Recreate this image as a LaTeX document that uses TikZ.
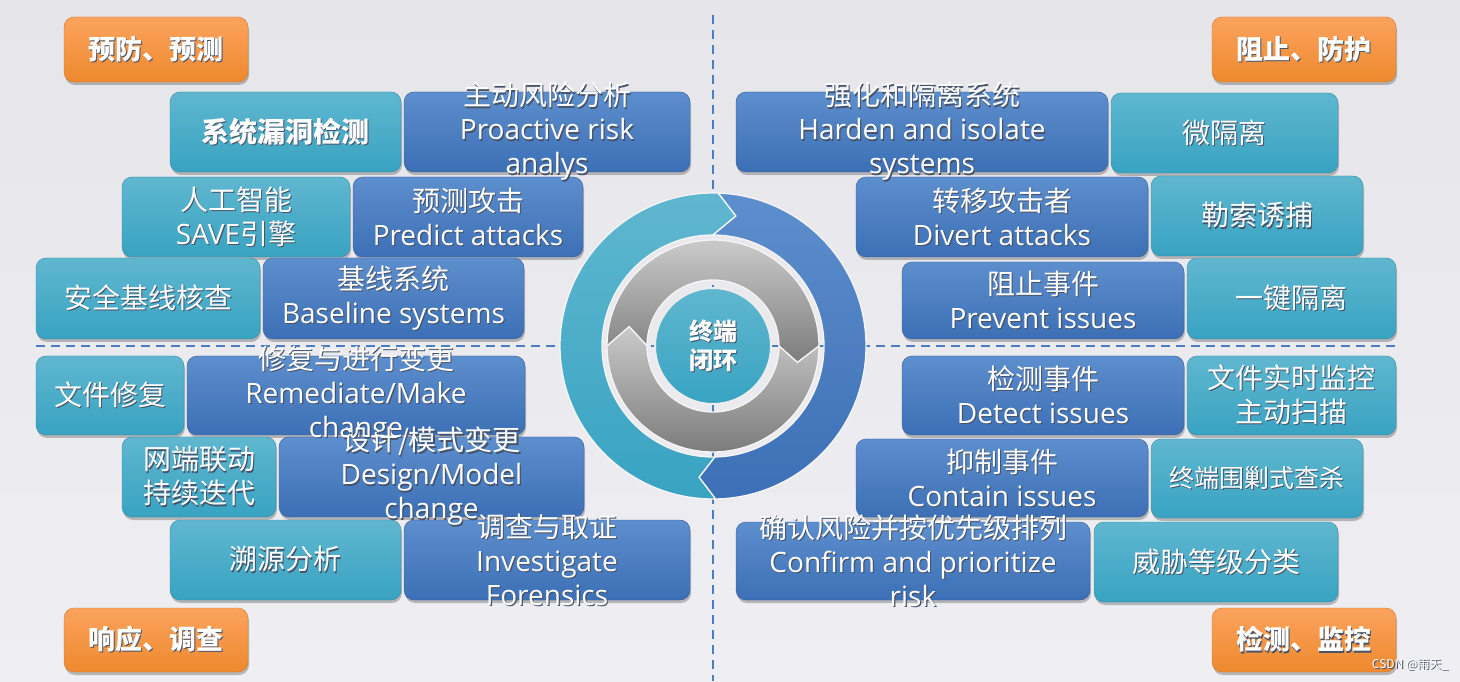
\documentclass[tikz,border=0pt]{standalone}
\usepackage{fontspec}
\setmainfont{Open Sans}
\newfontfamily\cjk{Noto Sans CJK SC}
\usetikzlibrary{shadows}
\definecolor{bgtop}{HTML}{E5E5EA}
\definecolor{bgbot}{HTML}{EFEFF3}
\definecolor{tealtop}{HTML}{60B7CF}
\definecolor{tealbot}{HTML}{38A3C2}
\definecolor{bluetop}{HTML}{5D8ECD}
\definecolor{bluebot}{HTML}{3C6FB5}
\definecolor{orgtop}{HTML}{FBA35E}
\definecolor{orgbot}{HTML}{EE892E}
\definecolor{dashc}{HTML}{4A7EC4}
\definecolor{graylt}{HTML}{CACACA}
\definecolor{graydk}{HTML}{7C7C7C}
\definecolor{tshadow}{HTML}{46536A}
\newcommand\sh[1]{\leavevmode\rlap{\kern1.2pt\raisebox{-1.2pt}{\textcolor{tshadow}{#1}}}#1}
\newcommand\zh[1]{\sh{{\cjk #1}}}
\newcommand\zhb[1]{\sh{{\cjk\bfseries #1}}}
% name, style, x1, y1, x2, y2 (screen pixels, y downwards)
\newcommand\mybox[6]{\node[#2, minimum width={(#5-#3)*1pt}, minimum height={(#6-#4)*1pt}] (#1) at ({(#3+#5)/2},{681-(#4+#6)/2}) {};}
\tikzset{
  boxbase/.style={rectangle, rounded corners=10pt, inner sep=0pt, outer sep=0pt,
    drop shadow={shadow xshift=1pt, shadow yshift=-3pt, opacity=0.35, fill=black!70}},
  tealbox/.style={boxbase, top color=tealtop, bottom color=tealbot, draw=tealbot!85!black, line width=0.4pt},
  bluebox/.style={boxbase, top color=bluetop, bottom color=bluebot, draw=bluebot!85!black, line width=0.4pt},
  orgbox/.style={boxbase, top color=orgtop, bottom color=orgbot, draw=orgbot!90!black, line width=0.4pt},
  txt/.style={text=white, align=center, inner sep=0pt, font=\fontsize{28}{34}\selectfont},
  otxt/.style={text=white, align=center, inner sep=0pt, font=\fontsize{27}{30}\selectfont},
  dashline/.style={draw=dashc, line width=2.6pt, dash pattern=on 9pt off 6pt},
  ringedge/.style={draw=white!92!gray, line width=1.3pt},
}
\begin{document}
\begin{tikzpicture}[x=1pt,y=1pt]
\useasboundingbox (0,0) rectangle (1460,681);
\fill[top color=bgtop, bottom color=bgbot] (0,0) rectangle (1460,681);

% dashed axes
\coordinate (vtop) at (713,666);
\coordinate (vbot) at (713,0);
\coordinate (hl) at (36,335);
\coordinate (hr) at (1396,335);
\draw[dashline] (vtop) -- (vbot);
\draw[dashline] (hl) -- (hr);

% central cycle
\begin{scope}[shift={(713,335)}]
  % outer ring: teal (left) and blue (right)
  \path[ringedge, top color=tealtop, bottom color=tealbot]
    (88:153pt) arc[start angle=88, end angle=271, radius=153pt]
    -- (264:132pt) -- (271:111pt)
    arc[start angle=271, end angle=90, radius=111pt]
    -- (80:132pt) -- cycle;
  \path[ringedge, top color=bluetop, bottom color=bluebot]
    (-89:153pt) arc[start angle=-89, end angle=88, radius=153pt]
    -- (80:132pt) -- (90:111pt)
    arc[start angle=90, end angle=-89, radius=111pt]
    -- (-96:132pt) -- cycle;
  % gray ring
  \path[ringedge, top color=graylt, bottom color=graydk]
    (0:106pt) arc[start angle=0, end angle=180, radius=106pt]
    -- (167:86pt) -- (180:66pt)
    arc[start angle=180, end angle=0, radius=66pt]
    -- (-11:86pt) -- cycle;
  \path[ringedge, top color=graylt, bottom color=graydk]
    (0:106pt) arc[start angle=0, end angle=-180, radius=106pt]
    -- (-193:86pt) -- (-180:66pt)
    arc[start angle=-180, end angle=0, radius=66pt]
    -- (-11:86pt) -- cycle;
\end{scope}
\node[circle, minimum size=116pt, inner sep=0pt, top color=tealtop, bottom color=tealbot,
      draw=white!85!gray, line width=2pt, text=white, align=center,
      font=\fontsize{24}{29}\selectfont] (core) at (713,335) {\zhb{终端}\\\zhb{闭环}};

% orange quadrant labels
\mybox{o1}{orgbox}{64}{17}{248}{82}
\mybox{o2}{orgbox}{1212}{17}{1396}{82}
\mybox{o3}{orgbox}{64}{608}{248}{672}
\mybox{o4}{orgbox}{1212}{608}{1396}{672}

% top-left
\mybox{t1}{tealbox}{170}{92}{401}{172}
\mybox{b1}{bluebox}{404}{92}{690}{172}
\mybox{t2}{tealbox}{122}{177}{350}{257}
\mybox{b2}{bluebox}{353}{177}{583}{257}
\mybox{t3}{tealbox}{36}{258}{260}{339}
\mybox{b3}{bluebox}{263}{258}{524}{339}
% top-right
\mybox{b4}{bluebox}{736}{92}{1108}{172}
\mybox{t4}{tealbox}{1111}{93}{1338}{173}
\mybox{b5}{bluebox}{856}{177}{1148}{257}
\mybox{t5}{tealbox}{1151}{176}{1363}{256}
\mybox{b6}{bluebox}{902}{262}{1184}{339}
\mybox{t6}{tealbox}{1187}{258}{1396}{339}
% bottom-left
\mybox{t7}{tealbox}{36}{356}{184}{435}
\mybox{b7}{bluebox}{187}{356}{525}{435}
\mybox{t8}{tealbox}{122}{437}{276}{517}
\mybox{b8}{bluebox}{279}{437}{584}{517}
\mybox{t9}{tealbox}{170}{520}{401}{600}
\mybox{b9}{bluebox}{404}{520}{690}{600}
% bottom-right
\mybox{b10}{bluebox}{902}{356}{1184}{435}
\mybox{t10}{tealbox}{1187}{356}{1396}{435}
\mybox{b11}{bluebox}{856}{439}{1148}{517}
\mybox{t11}{tealbox}{1151}{439}{1363}{518}
\mybox{b12}{bluebox}{736}{522}{1090}{600}
\mybox{t12}{tealbox}{1094}{522}{1338}{602}

% texts
\node[otxt] (o1t) at (o1.center) {\zhb{预防、预测}};
\node[otxt] (o2t) at (o2.center) {\zhb{阻止、防护}};
\node[otxt] (o3t) at (o3.center) {\zhb{响应、调查}};
\node[otxt] (o4t) at (o4.center) {\zhb{检测、监控}};

\node[txt] (t1t) at (t1.center) {\zhb{系统漏洞检测}};
\node[txt] (b1t) at (b1.center) {\zh{主动风险分析}\\\sh{Proactive risk}\\\sh{analys}};
\node[txt] (t2t) at (t2.center) {\zh{人工智能}\\\sh{SAVE{\cjk 引擎}}};
\node[txt] (b2t) at (b2.center) {\zh{预测攻击}\\\sh{Predict attacks}};
\node[txt] (t3t) at (t3.center) {\zh{安全基线核查}};
\node[txt] (b3t) at (b3.center) {\zh{基线系统}\\\sh{Baseline systems}};

\node[txt] (b4t) at (b4.center) {\zh{强化和隔离系统}\\\sh{Harden and isolate}\\\sh{systems}};
\node[txt] (t4t) at (t4.center) {\zh{微隔离}};
\node[txt] (b5t) at (b5.center) {\zh{转移攻击者}\\\sh{Divert attacks}};
\node[txt] (t5t) at (t5.center) {\zh{勒索诱捕}};
\node[txt] (b6t) at (b6.center) {\zh{阻止事件}\\\sh{Prevent issues}};
\node[txt] (t6t) at (t6.center) {\zh{一键隔离}};

\node[txt] (t7t) at (t7.center) {\zh{文件修复}};
\node[txt] (b7t) at (b7.center) {\zh{修复与进行变更}\\\sh{Remediate/Make}\\\sh{change}};
\node[txt] (t8t) at (t8.center) {\zh{网端联动}\\\zh{持续迭代}};
\node[txt] (b8t) at (b8.center) {\zh{设计/模式变更}\\\sh{Design/Model}\\\sh{change}};
\node[txt] (t9t) at (t9.center) {\zh{溯源分析}};
\node[txt] (b9t) at (b9.center) {\zh{调查与取证}\\\sh{Investigate}\\\sh{Forensics}};

\node[txt] (b10t) at (b10.center) {\zh{检测事件}\\\sh{Detect issues}};
\node[txt] (t10t) at (t10.center) {\zh{文件实时监控}\\\zh{主动扫描}};
\node[txt] (b11t) at (b11.center) {\zh{抑制事件}\\\sh{Contain issues}};
\node[txt, font=\fontsize{25}{30}\selectfont] (t11t) at (t11.center) {\zh{终端围剿式查杀}};
\node[txt] (b12t) at (b12.center) {\zh{确认风险并按优先级排列}\\\sh{Confirm and prioritize}\\\sh{risk}};
\node[txt] (t12t) at (t12.center) {\zh{威胁等级分类}};

\node[text=white, inner sep=0pt, font=\fontsize{12}{14}\selectfont] (wm) at (1410,16) {\zh{CSDN @雨天\_}};
\end{tikzpicture}
\end{document}
